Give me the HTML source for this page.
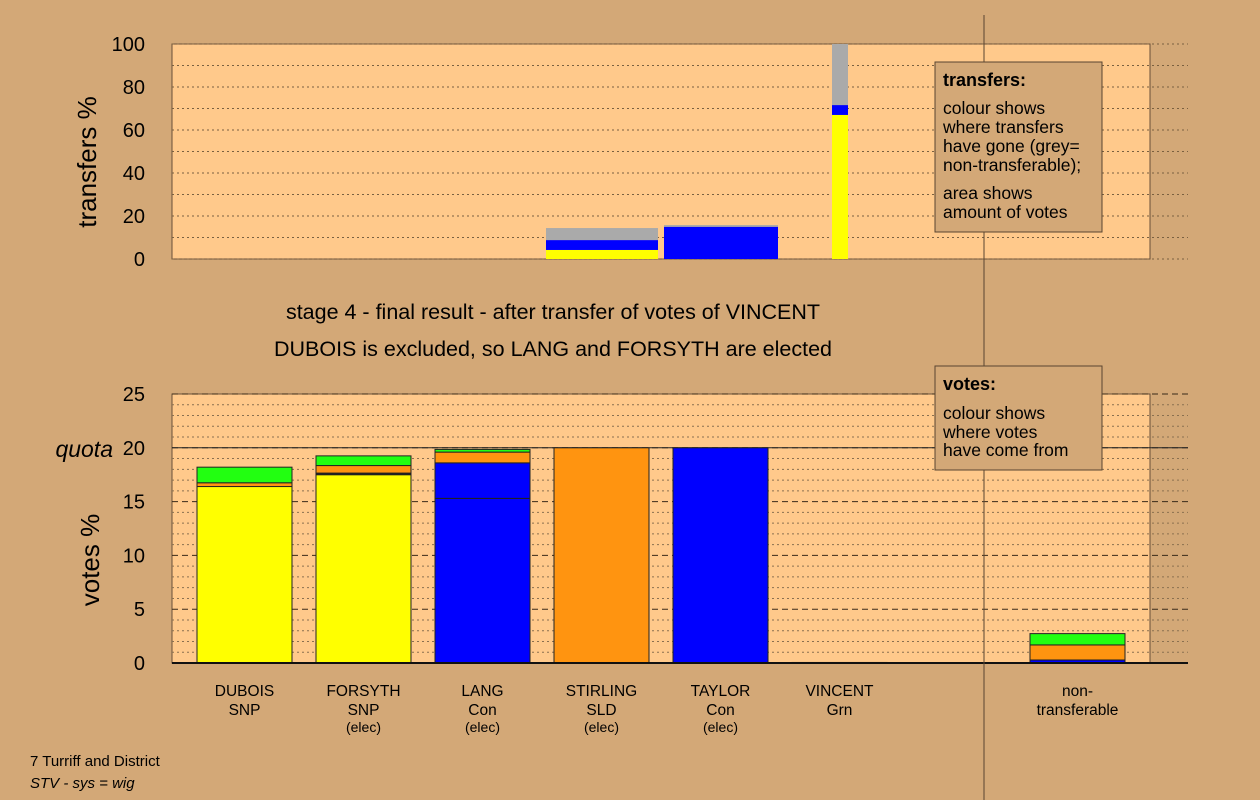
<!DOCTYPE html>
<html><head><meta charset="utf-8"><style>
body{margin:0;background:#D3A877;}
svg{display:block;font-family:"Liberation Sans",sans-serif;}
</style></head><body>
<svg id="c" width="1260" height="800">
<rect width="1260" height="800" fill="#D3A877"/>
<g id="top"></g><g id="bot"></g>
<text x="553" y="319" font-size="21.5" text-anchor="middle">stage 4 - final result - after transfer of votes of VINCENT</text>
<text x="553" y="356" font-size="21.5" text-anchor="middle">DUBOIS is excluded, so LANG and FORSYTH are elected</text>
<text transform="translate(96,162) rotate(-90)" font-size="26" text-anchor="middle">transfers %</text>
<text transform="translate(99,560) rotate(-90)" font-size="26" text-anchor="middle">votes %</text>
<text x="113" y="457" font-size="23" font-style="italic" text-anchor="end">quota</text>
<line x1="984" y1="15" x2="984" y2="800" stroke="#5a4530" stroke-width="1"/>
<g>
<rect x="935" y="62" width="167" height="170" fill="#D3A877" stroke="#5a4530"/>
<text x="943" y="86" font-size="18" font-weight="bold">transfers:</text>
<text font-size="17.5"><tspan x="943" y="114">colour shows</tspan><tspan x="943" y="133">where transfers</tspan><tspan x="943" y="152">have gone (grey=</tspan><tspan x="943" y="171">non-transferable);</tspan><tspan x="943" y="199">area shows</tspan><tspan x="943" y="218">amount of votes</tspan></text>
</g>
<g>
<rect x="935" y="366" width="167" height="104" fill="#D3A877" stroke="#5a4530"/>
<text x="943" y="390" font-size="18" font-weight="bold">votes:</text>
<text font-size="17.5"><tspan x="943" y="419">colour shows</tspan><tspan x="943" y="438">where votes</tspan><tspan x="943" y="456">have come from</tspan></text>
</g>
<text x="30" y="766" font-size="15">7 Turriff and District</text>
<text x="30" y="788" font-size="15" font-style="italic">STV - sys = wig</text>
</svg>
<script>
const NS="http://www.w3.org/2000/svg";
const topTicks=[0,20,40,60,80,100];
const voteTicks=[0,5,10,15,20,25];
const candidates=["DUBOIS","FORSYTH","LANG","STIRLING","TAYLOR","VINCENT","","non-"];
const parties=["SNP","SNP","Con","SLD","Con","Grn","","transferable"];
const status=["","(elec)","(elec)","(elec)","(elec)","","",""];
const colors={Y:"#FFFF00",B:"#0000FF",O:"#FF9410",G:"#22FF11",K:"#222222",S:"#AAAAAA"};
const transferSegs=[[["Y",4.2],["B",4.6],["S",5.6]],[["B",15],["S",0.8]],[["Y",67],["B",4.6],["S",28.4]]];
const voteSegs=[
 [["Y",16.4],["O",0.35],["G",1.45]],
 [["Y",17.5],["K",0.15],["O",0.7],["G",0.9]],
 [["B",15.3],["B",3.3],["O",1.0],["G",0.25]],
 [["O",20]],[["B",20]],[["G",0.05]],[],
 [["B",0.28],["O",1.4],["G",1.05]]];
function el(t,a,p){const e=document.createElementNS(NS,t);for(const k in a)e.setAttribute(k,a[k]);p.appendChild(e);return e;}
const X0=172,X1=1150;
const ty=v=>259-v*2.15, vy=v=>663-v*10.76;
const slotX=i=>i<7?197+i*119:1030;
const topG=document.getElementById('top'), botG=document.getElementById('bot');
el('rect',{x:X0,y:44,width:X1-X0,height:215,fill:"#FFC98B",stroke:"#6a5038","stroke-width":1},topG);
for(let v=0;v<=100;v+=10){const l=el('line',{x1:X0,x2:1188,y1:ty(v),y2:ty(v),stroke:"#7a6040","stroke-dasharray":"2,3"},topG);}
topTicks.forEach(v=>{const t=el('text',{x:145,y:ty(v)+7,"font-size":20,"text-anchor":"end"},topG);t.textContent=v;});
transferSegs.forEach((segs,i)=>{let acc=0;const x0=i==2?832:(546+i*118);const w=i==2?16:(i==0?112:114);
 segs.forEach(([c,v])=>{const r=el('rect',{x:x0,y:ty(acc+v),width:w,height:v*2.15,fill:colors[c]},topG);acc+=v;});});
el('rect',{x:X0,y:394,width:X1-X0,height:269,fill:"#FFC98B",stroke:"#6a5038"},botG);
for(let v=1;v<=25;v++){const l=el('line',{x1:X0,x2:1188,y1:vy(v),y2:vy(v),stroke:v%5?"#8a7050":"#3a2a1a","stroke-dasharray":v%5?"2,3":"6,4"},botG);}
el('line',{x1:X0,x2:1188,y1:vy(20),y2:vy(20),stroke:"#222"},botG);
voteTicks.forEach(v=>{const t=el('text',{x:145,y:vy(v)+7,"font-size":20,"text-anchor":"end"},botG);t.textContent=v;});
voteSegs.forEach((segs,i)=>{let acc=0;const x=slotX(i);
 segs.forEach(([c,v])=>{const r=el('rect',{x:x,y:vy(acc+v),width:95,height:v*10.76,fill:colors[c],stroke:"#222","stroke-width":1},botG);acc+=v;});
 const cx=x+47.5;[candidates[i],parties[i],status[i]].forEach((s,k)=>{if(!s)return;const t=el('text',{x:cx,y:[696,715,732][k],"font-size":k==2?14:15.5,"text-anchor":"middle"},botG);t.textContent=s;});});
el('line',{x1:X0,x2:1188,y1:663,y2:663,stroke:"#111","stroke-width":2},botG);
</script>
</body></html>
